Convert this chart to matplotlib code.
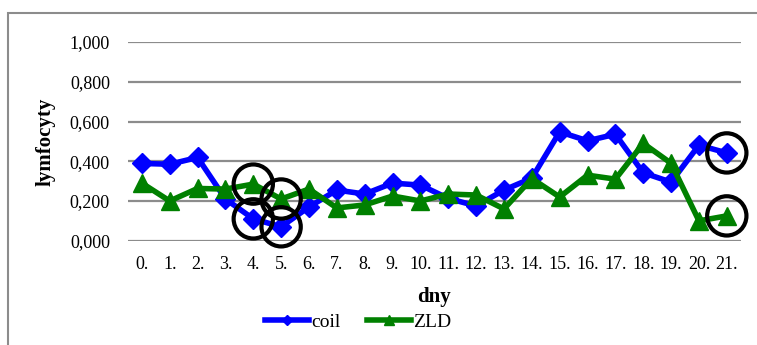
import matplotlib.pyplot as plt
from matplotlib.patches import Rectangle
from matplotlib.ticker import FuncFormatter

days = [f"{i}." for i in range(22)]
coil = [0.389, 0.385, 0.419, 0.21, 0.11, 0.07, 0.17, 0.255, 0.235, 0.29, 0.28,
        0.213, 0.175, 0.255, 0.315, 0.548, 0.503, 0.536, 0.342, 0.295, 0.481, 0.442]
zld = [0.29, 0.2, 0.263, 0.26, 0.285, 0.21, 0.26, 0.165, 0.18, 0.225, 0.2,
       0.235, 0.23, 0.16, 0.313, 0.22, 0.33, 0.31, 0.49, 0.39, 0.1, 0.125]
# highlighted points: (day index, series)
marked = [(4, 'coil'), (4, 'zld'), (5, 'coil'), (5, 'zld'), (21, 'coil'), (21, 'zld')]


def main():
    plt.rcParams['font.family'] = ['Liberation Serif', 'DejaVu Serif']
    fig = plt.figure(figsize=(7.57, 3.45), dpi=100)
    ax = fig.add_axes([0.169, 0.3023, 0.8095, 0.5757])

    # outer chart border
    fig.patches.append(Rectangle((8 / 757, -0.1), 1.2, 1 - 13 / 345 + 0.1,
                                 transform=fig.transFigure, fill=False,
                                 edgecolor='#8c8c8c', linewidth=1.5))

    x = list(range(len(days)))
    ax.plot(x, coil, color='#0000ff', linewidth=4, marker='D', markersize=10,
            label='coil', zorder=3)
    ax.plot(x, zld, color='#008000', linewidth=4, marker='^', markersize=13,
            label='ZLD', zorder=4)

    series = {'coil': coil, 'zld': zld}
    mx = [i for i, s in marked]
    my = [series[s][i] for i, s in marked]
    ax.scatter(mx, my, s=800, facecolors='none', edgecolors='black',
               linewidths=3, zorder=5, clip_on=False)

    ax.set_xlim(-0.5, 21.5)
    ax.set_ylim(0, 1)
    ax.set_yticks([0, 0.2, 0.4, 0.6, 0.8, 1.0])
    ax.yaxis.set_major_formatter(FuncFormatter(lambda v, p: f"{v:.3f}".replace('.', ',')))
    ax.set_xticks(x)
    ax.set_xticklabels(days)
    ax.tick_params(axis='both', length=0, labelsize=13)
    ax.tick_params(axis='y', pad=13)
    ax.tick_params(axis='x', pad=11)
    ax.grid(True, axis='y', color='#8c8c8c', linewidth=1.6)
    ax.set_axisbelow(True)
    for side in ['top', 'right', 'left', 'bottom']:
        ax.spines[side].set_visible(False)

    ax.set_ylabel('lymfocyty', fontsize=15, fontweight='bold', labelpad=10)
    ax.set_xlabel('dny', fontsize=15, fontweight='bold', labelpad=10)

    fig.legend(loc='center', bbox_to_anchor=(358 / 757, 1 - 322 / 345), ncol=2,
               frameon=False, fontsize=14, handlelength=2.3, columnspacing=1.35,
               handletextpad=0.1, markerscale=0.5, borderpad=0)

    fig.savefig('out.png', dpi=100)


if __name__ == '__main__':
    main()
